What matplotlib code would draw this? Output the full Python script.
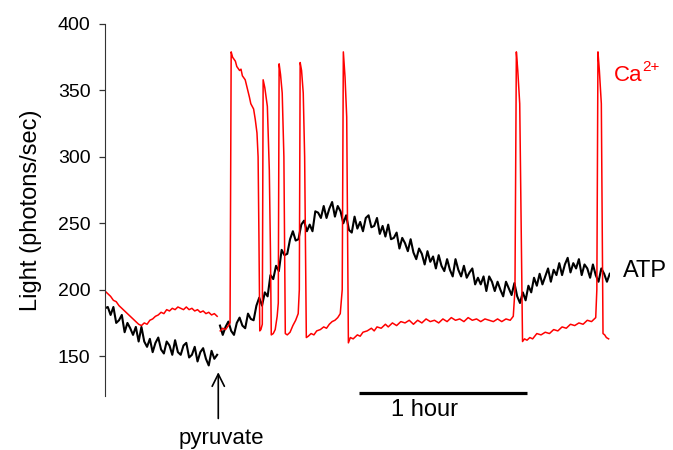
import numpy as np
import matplotlib
matplotlib.use("Agg")
import matplotlib.pyplot as plt

plt.rcParams['font.family'] = ['Liberation Sans', 'DejaVu Sans']

# ATP trace (black), one reading per minute, gap at pyruvate addition
atp_t1 = list(range(0, 41))
atp_v1 = [186, 187, 181, 187, 175, 177, 181, 168, 175, 171,
          166, 172, 161, 172, 161, 157, 163, 153, 160, 164,
          155, 152, 161, 158, 151, 162, 153, 151, 158, 160,
          149, 151, 157, 146, 153, 156, 148, 143, 154, 148, 151]
atp_t2 = list(range(41, 181))
atp_v2 = [173, 166, 172, 176, 169, 166, 175, 179, 173, 171,
          182, 178, 177, 188, 194, 188, 198, 195, 211, 208,
          218, 214, 230, 226, 227, 238, 244, 237, 238, 249,
          252, 244, 249, 244, 259, 258, 254, 263, 254, 261,
          266, 255, 263, 259, 250, 256, 245, 243, 255, 246,
          251, 244, 254, 256, 247, 248, 254, 242, 248, 240,
          249, 238, 239, 243, 231, 239, 235, 229, 238, 228,
          223, 231, 227, 219, 229, 221, 225, 216, 226, 218,
          214, 223, 215, 210, 223, 215, 210, 218, 209, 213,
          216, 204, 209, 204, 210, 199, 210, 206, 199, 206,
          200, 195, 206, 201, 196, 205, 195, 190, 198, 192,
          203, 198, 209, 203, 212, 204, 210, 216, 206, 215,
          211, 220, 211, 219, 224, 213, 220, 216, 223, 211,
          219, 216, 209, 219, 211, 206, 216, 212, 206, 212]

# Ca2+ trace (red)
ca_t1 = list(range(0, 41))
ca_v1 = [199, 197, 195, 192, 191, 188, 186, 184, 182, 180,
         178, 176, 174, 173, 175, 174, 177, 178, 180, 181,
         183, 182, 185, 184, 186, 185, 187, 186, 185, 187,
         185, 186, 184, 185, 183, 184, 182, 183, 181, 182, 180]
ca_t2 = [41.1, 42, 43, 44, 44.6, 45, 45.5, 46.5, 47, 48, 48.5, 49, 50, 50.7,
         51.5, 52, 53, 53.6, 54.2, 54.6, 54.9, 55.2, 55.6, 56.1, 56.4, 57,
         57.9, 58.6, 59, 59.3, 60, 60.7, 61.4, 61.8, 62.1, 62.6, 63.2, 63.8,
         64.3, 65, 66, 67, 68, 68.9, 69.3, 69.6, 70.1, 70.7, 71.2, 71.8, 72.5,
         73.5, 74.5, 75.5, 76.8, 78, 79, 80, 81, 82, 83, 83.9, 84.6, 85, 85.6,
         86.2, 86.8, 87.5, 88.5, 90, 91, 92, 93.5, 95, 96, 97, 98.5, 100, 101,
         102.5, 104, 105.5, 107, 108.5, 110, 111.5, 113, 114.5, 116, 117.5,
         119, 120.5, 122, 123.5, 125, 126.5, 128, 129.5, 131, 132.5, 134,
         135.5, 137, 138.5, 140, 141.5, 143, 144.5, 145.6, 146.2, 146.7,
         147.2, 147.9, 148.4, 148.9, 149.6, 150.5, 151.5, 152.5, 154, 155.5,
         157, 158.5, 160, 161.5, 163, 164.5, 166, 167.5, 169, 170.5, 172,
         173.5, 175, 175.4, 175.8, 176.3, 177, 177.3, 177.6, 178.2, 178.8,
         179.6]
ca_v2 = [169, 171, 170, 173, 175, 379, 375, 372, 368, 365, 366, 361, 358, 352,
         345, 340, 336, 328, 318, 300, 240, 169, 170, 174, 358, 352,
         338, 290, 230, 166, 167, 170, 180, 190, 370, 362, 348, 300,
         167, 166, 168, 173, 177, 182, 200, 371, 365, 348, 300, 164, 165,
         167, 166, 169, 170, 172, 171, 174, 176, 177, 179, 182, 200, 379, 360,
         330, 160, 164, 163, 166, 165, 168, 169, 171, 169, 172, 171, 174, 172,
         175, 173, 176, 175, 177, 174, 177, 175, 178, 176, 177,
         175, 178, 176, 179, 177, 178, 176, 179, 177, 178, 176,
         178, 177, 176, 178, 176, 178, 177, 180, 200, 379,
         365, 340, 250, 161, 163, 162, 164, 163, 167, 166,
         168, 167, 170, 169, 172, 171, 174, 173, 175, 174, 177,
         176, 179, 200, 379, 365, 340, 250, 167, 166, 164,
         163]

fig = plt.figure(figsize=(6.73, 4.5), dpi=100)
ax = fig.add_axes([0.156, 0.12, 0.75, 0.8267])

ax.plot(atp_t1, atp_v1, color='black', lw=1.5)
ax.plot(atp_t2, atp_v2, color='black', lw=1.5)
ax.plot(ca_t1, ca_v1, color='#ff0000', lw=1.1)
ax.plot(ca_t2, ca_v2, color='#ff0000', lw=1.1)

ax.set_xlim(0, 180)
ax.set_ylim(120, 400)
ax.set_yticks([150, 200, 250, 300, 350, 400])
ax.set_xticks([])
for s in ['top', 'right', 'bottom']:
    ax.spines[s].set_visible(False)
ax.spines['left'].set_color('#333333')
ax.tick_params(axis='y', direction='out', length=4.5, width=0.9,
               color='#333333', labelsize=14, pad=6)
ax.set_ylabel('Light (photons/sec)', fontsize=17, labelpad=11)

# labels
ca = ax.text(181.4, 361, 'Ca', color='#ff0000', fontsize=16,
             va='center', ha='left', clip_on=False)
ax.annotate('2+', xy=(1, 1), xycoords=ca, xytext=(0, 4),
            textcoords='offset points', color='#ff0000', fontsize=11,
            ha='left', va='top', annotation_clip=False)
ax.text(184.6, 214, 'ATP', color='black', fontsize=17,
        va='center', ha='left', clip_on=False)

# 1 hour scale bar
ax.plot([90.5, 150.5], [122.3, 122.3], color='black', lw=2.3,
        clip_on=False, solid_capstyle='butt')
ax.text(114, 109.4, '1 hour', fontsize=17, ha='center', va='center',
        clip_on=False)

# pyruvate arrow
ax.annotate('', xy=(40.4, 140), xytext=(40.4, 101),
            arrowprops=dict(arrowstyle='->', color='black', lw=1.2,
                            mutation_scale=22),
            annotation_clip=False)
ax.text(41.5, 88, 'pyruvate', fontsize=16, ha='center', va='center',
        clip_on=False)

fig.savefig('out.png', dpi=100)
